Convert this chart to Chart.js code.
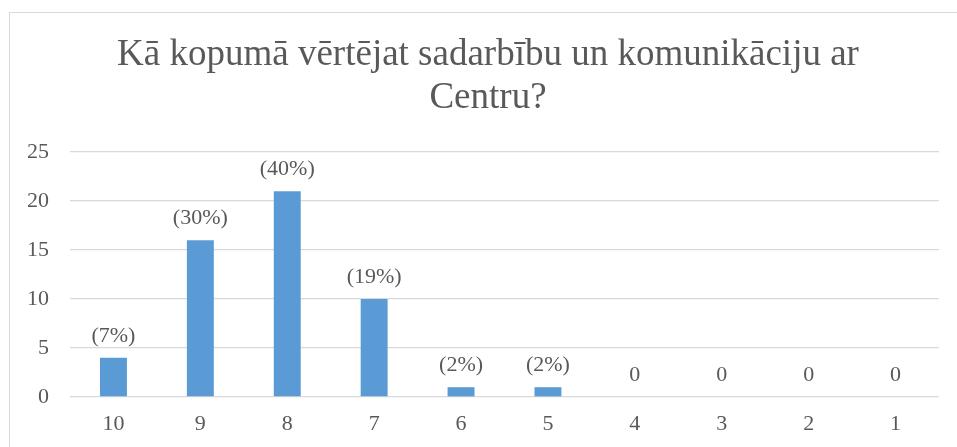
<!DOCTYPE html>
<html>
<head>
<meta charset="utf-8">
<script src="https://cdn.jsdelivr.net/npm/chart.js@4.4.1/dist/chart.umd.min.js"></script>
<style>
  html, body { margin: 0; padding: 0; background: #fff; }
  #wrap { position: relative; width: 957px; height: 447px; overflow: hidden; }
  #frame { position: absolute; left: 9px; top: 12px; width: 1000px; height: 500px; border: 1px solid #d9d9d9; box-sizing: border-box; }
  #box { position: absolute; left: 0; top: 0; width: 957px; height: 447px; }
</style>
</head>
<body>
<div id="wrap">
  <div id="frame"></div>
  <div id="box"><canvas id="chart"></canvas></div>
</div>
<script>
  const titleLines = ['Kā kopumā vērtējat sadarbību un komunikāciju ar', 'Centru?'];
  const categories = ['10', '9', '8', '7', '6', '5', '4', '3', '2', '1'];
  const counts = [4, 16, 21, 10, 1, 1, 0, 0, 0, 0];
  const shareLabels = ['(7%)', '(30%)', '(40%)', '(19%)', '(2%)', '(2%)', '0', '0', '0', '0'];
  const yTicks = [0, 5, 10, 15, 20, 25];

  const serif = '"Liberation Serif", "Times New Roman", serif';
  const grey = '#595959';

  // title is centred on the frame rather than on the canvas, so draw it here
  const frameTitle = {
    id: 'frameTitle',
    afterDraw(chart) {
      const ctx = chart.ctx;
      ctx.save();
      ctx.font = '37px ' + serif;
      ctx.fillStyle = grey;
      ctx.textAlign = 'center';
      ctx.textBaseline = 'middle';
      titleLines.forEach(function (line, i) {
        ctx.fillText(line, 488, 55 + i * 43);
      });
      ctx.restore();
    }
  };

  // labels above each bar, placed from the bar element's own position
  const barLabels = {
    id: 'barLabels',
    afterDatasetsDraw(chart) {
      const ctx = chart.ctx;
      const meta = chart.getDatasetMeta(0);
      ctx.save();
      ctx.font = '22px ' + serif;
      ctx.fillStyle = grey;
      ctx.textAlign = 'center';
      ctx.textBaseline = 'middle';
      meta.data.forEach(function (bar, i) {
        ctx.fillText(shareLabels[i], bar.x, bar.y - 22);
      });
      ctx.restore();
    }
  };

  new Chart(document.getElementById('chart'), {
    type: 'bar',
    data: {
      labels: categories,
      datasets: [{
        data: counts,
        backgroundColor: '#5b9bd5',
        borderWidth: 0,
        categoryPercentage: 1,
        barPercentage: 0.31
      }]
    },
    options: {
      responsive: true,
      maintainAspectRatio: false,
      animation: false,
      layout: { padding: { left: 0, right: 18, top: 152, bottom: 0 } },
      plugins: {
        legend: { display: false },
        tooltip: { enabled: false },
        title: { display: false }
      },
      scales: {
        x: {
          grid: { display: false, drawTicks: false },
          border: { display: false },
          ticks: { color: grey, font: { family: serif, size: 22 }, padding: 14 },
          afterFit: function (s) { s.height = 50; }
        },
        y: {
          min: 0,
          max: 25,
          afterBuildTicks: function (s) { s.ticks = yTicks.map(function (v) { return { value: v }; }); },
          grid: { color: '#d9d9d9', lineWidth: 1.3, drawTicks: false },
          border: { display: false },
          ticks: { color: grey, font: { family: serif, size: 22 }, padding: 21 },
          afterFit: function (s) { s.width = 70; }
        }
      }
    },
    plugins: [barLabels, frameTitle]
  });
</script>
</body>
</html>
